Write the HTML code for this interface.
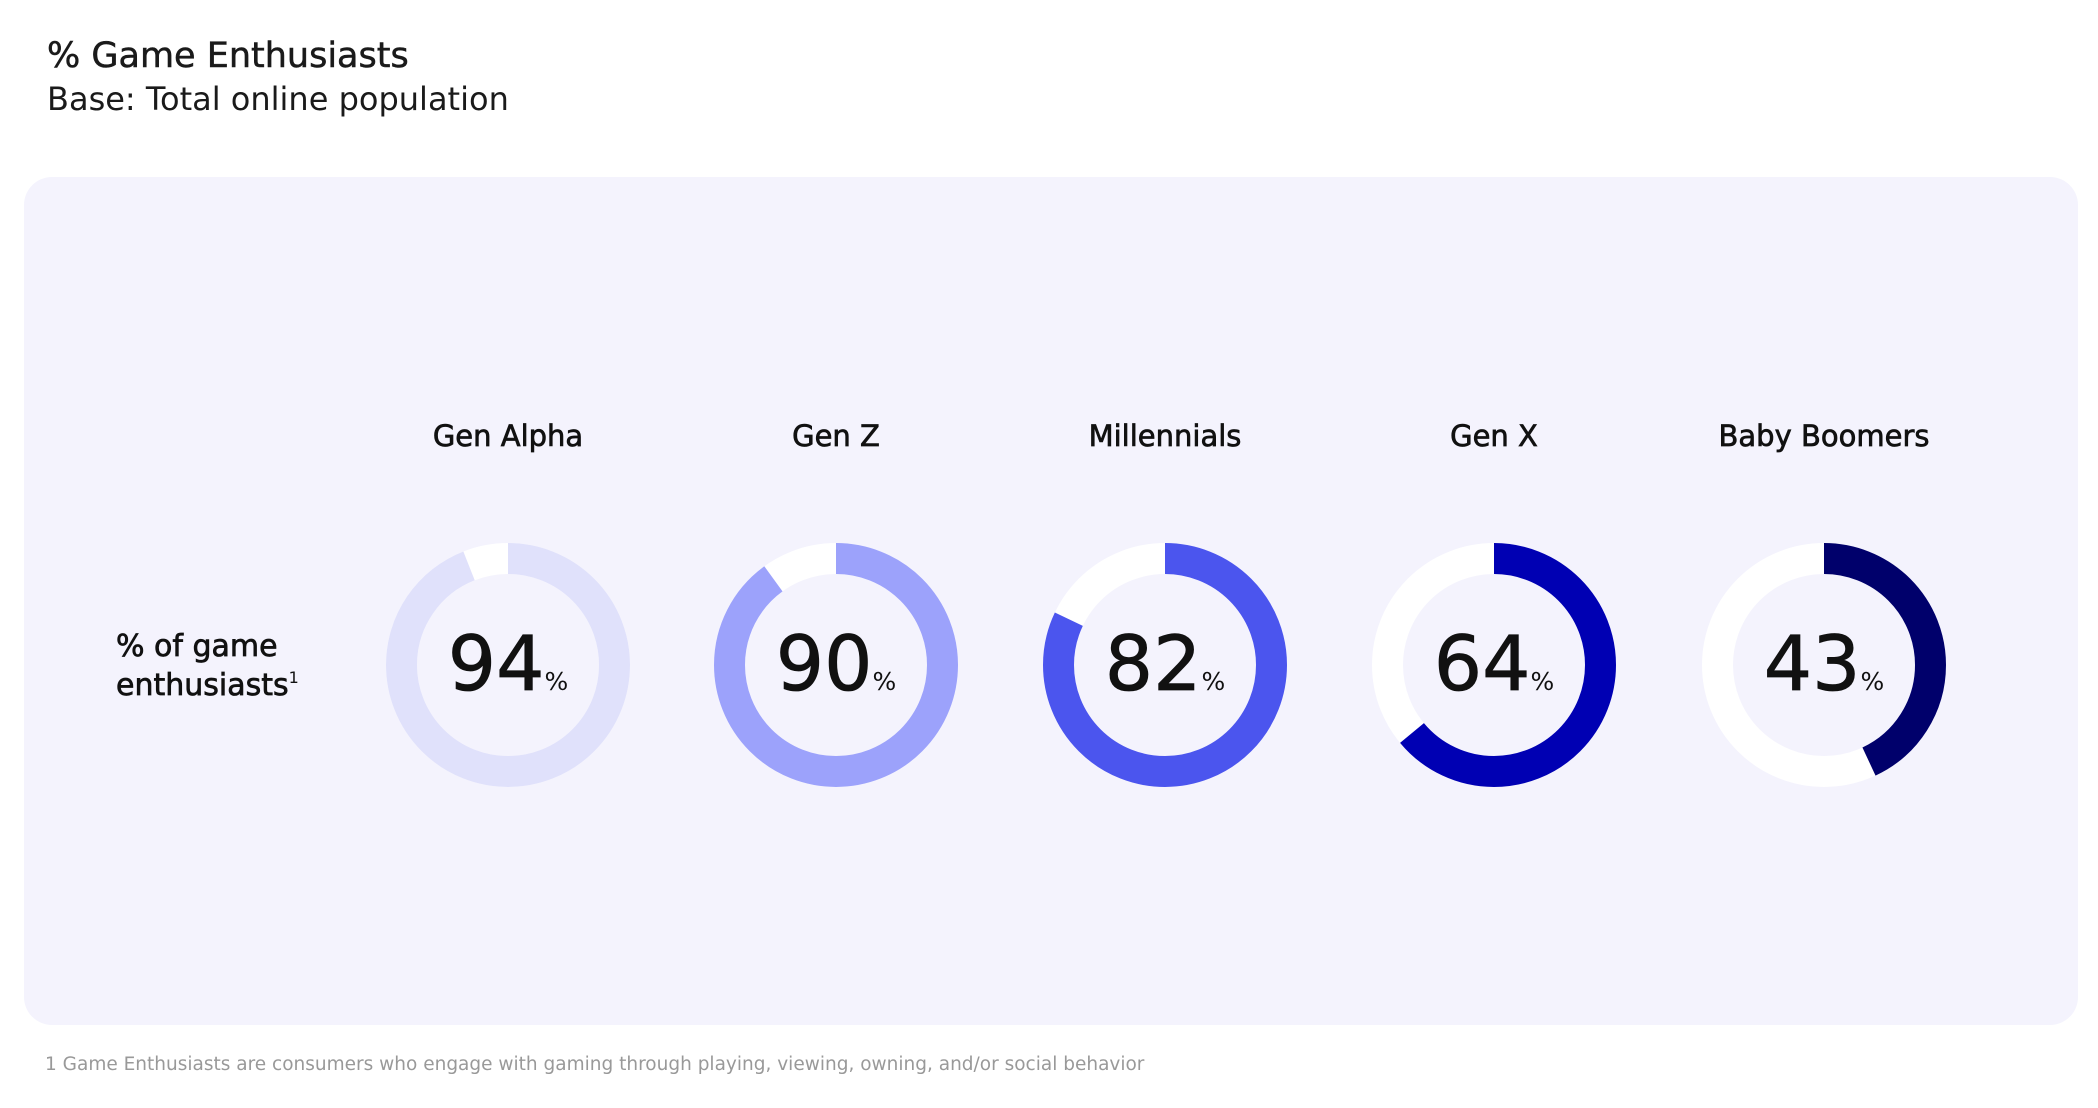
<!DOCTYPE html>
<html><head><meta charset="utf-8"><style>
body{margin:0;width:2098px;height:1108px;background:#fff;font-family:"DejaVu Sans",sans-serif;overflow:hidden;position:relative}
</style></head><body>
<svg width="2098" height="1108" style="position:absolute;left:0;top:0">
<text x="47" y="67" font-size="35" fill="#1a1a1a" font-family="DejaVu Sans" stroke="#1a1a1a" stroke-width="0.5">% Game Enthusiasts</text>
<text x="47" y="110" font-size="32" fill="#1a1a1a" font-family="DejaVu Sans">Base: Total online population</text>
<rect x="24" y="177" width="2054" height="848" rx="28" fill="#f4f3fd"/>
<g font-family="DejaVu Sans" font-size="29" fill="#111" text-anchor="middle" stroke="#111" stroke-width="0.7">
<text x="508" y="446">Gen Alpha</text>
<text x="836" y="446">Gen Z</text>
<text x="1165" y="446">Millennials</text>
<text x="1494" y="446">Gen X</text>
<text x="1824" y="446">Baby Boomers</text>
</g>
<g font-family="DejaVu Sans" font-size="30" fill="#111" stroke="#111" stroke-width="0.7">
<text x="116" y="656">% of game</text>
<text x="116" y="695">enthusiasts<tspan font-size="16" dy="-12" stroke-width="0">1</tspan></text>
</g>
<g fill="none" stroke-width="31">
<circle cx="508" cy="665" r="106.5" stroke="#fff"/>
<circle cx="508" cy="665" r="106.5" stroke="#e0e1fb" stroke-dasharray="629 1000" transform="rotate(-90 508 665)"/>
<circle cx="836" cy="665" r="106.5" stroke="#fff"/>
<circle cx="836" cy="665" r="106.5" stroke="#9ca2fb" stroke-dasharray="602 1000" transform="rotate(-90 836 665)"/>
<circle cx="1165" cy="665" r="106.5" stroke="#fff"/>
<circle cx="1165" cy="665" r="106.5" stroke="#4b55ee" stroke-dasharray="549 1000" transform="rotate(-90 1165 665)"/>
<circle cx="1494" cy="665" r="106.5" stroke="#fff"/>
<circle cx="1494" cy="665" r="106.5" stroke="#0000b3" stroke-dasharray="428 1000" transform="rotate(-90 1494 665)"/>
<circle cx="1824" cy="665" r="106.5" stroke="#fff"/>
<circle cx="1824" cy="665" r="106.5" stroke="#00006b" stroke-dasharray="288 1000" transform="rotate(-90 1824 665)"/>
</g>
<g font-family="DejaVu Sans" fill="#111" stroke="#111" stroke-width="0.8">
<text x="508" y="690" font-size="76" text-anchor="middle">94<tspan font-size="25" stroke-width="0">%</tspan></text>
<text x="836" y="690" font-size="76" text-anchor="middle">90<tspan font-size="25" stroke-width="0">%</tspan></text>
<text x="1165" y="690" font-size="76" text-anchor="middle">82<tspan font-size="25" stroke-width="0">%</tspan></text>
<text x="1494" y="690" font-size="76" text-anchor="middle">64<tspan font-size="25" stroke-width="0">%</tspan></text>
<text x="1824" y="690" font-size="76" text-anchor="middle">43<tspan font-size="25" stroke-width="0">%</tspan></text>
</g>
<text x="45" y="1070" font-size="18.5" fill="#999" font-family="DejaVu Sans">1 Game Enthusiasts are consumers who engage with gaming through playing, viewing, owning, and/or social behavior</text>
</svg>
</body></html>
